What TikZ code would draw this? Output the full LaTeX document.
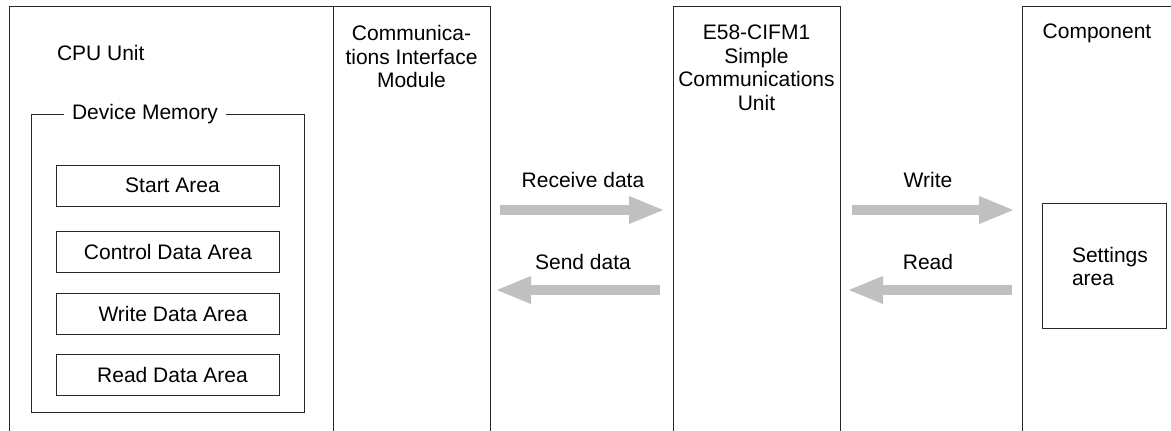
\documentclass[tikz,border=0pt]{standalone}
\usepackage{fontspec}
\setmainfont{Liberation Sans}
\usetikzlibrary{arrows.meta}
\definecolor{arrowgray}{RGB}{192,192,192}
\definecolor{linegray}{RGB}{40,40,40}
\begin{document}
\begin{tikzpicture}[x=1pt,y=-1pt,
  every node/.style={font=\fontsize{21}{23.5}\selectfont, inner sep=0pt, outer sep=0pt},
  col/.style={draw=linegray, line width=1pt, rectangle, minimum height=440pt},
  areabox/.style={draw=linegray, line width=1pt, rectangle, minimum width=223pt, minimum height=41pt},
  txt/.style={align=center},
  flow/.style={draw=arrowgray, line width=10pt, -{Triangle[length=36pt,width=25pt]}}
]
\useasboundingbox (0,0) rectangle (1171,431);
\clip (0,0) rectangle (1171,431);
\fill[white] (0,0) rectangle (1171,431);

% columns (open at the bottom)
\node[col, minimum width=324pt] (cpu) at (171,226) {};
\node[col, minimum width=157pt] (cim) at (411.5,226) {};
\node[col, minimum width=167pt] (e58) at (756.5,226) {};
\node[col, minimum width=170pt] (comp) at (1107,226) {};

% column titles
\node[anchor=west] (cputxt) at (57,53) {CPU Unit};
\node[txt] (cimtxt) at (411.5,56.5) {Communica-\\tions Interface\\Module};
\node[txt] (e58txt) at (756.5,68) {E58-CIFM1\\Simple\\Communications\\Unit};
\node (comptxt) at (1097,33) {Component};

% device memory
\node[draw=linegray, line width=1pt, rectangle, minimum width=273pt, minimum height=298pt] (dm) at (167.5,263) {};
\node[fill=white, inner xsep=8.5pt, inner ysep=2pt] (dmtxt) at (145,114) {Device Memory};

\node[areabox] (start) at (167.5,185.5) {};
\node (starttxt) at (172.5,185.5) {Start Area};
\node[areabox] (ctrl) at (167.5,252) {};
\node (ctrltxt) at (168,252) {Control Data Area};
\node[areabox] (wr) at (167.5,313.5) {};
\node (wrtxt) at (173,313.5) {Write Data Area};
\node[areabox] (rd) at (167.5,374.5) {};
\node (rdtxt) at (172.5,374.5) {Read Data Area};

% settings area
\node[draw=linegray, line width=1pt, rectangle, minimum width=124pt, minimum height=125pt] (set) at (1104,265.5) {};
\node[anchor=west, align=left] (settxt) at (1072,266.5) {Settings\\area};

% flow arrows
\coordinate (r1) at (500,210);
\coordinate (r2) at (665,210);
\coordinate (s1) at (660,290);
\coordinate (s2) at (495,290);
\coordinate (w1) at (852,210);
\coordinate (w2) at (1015,210);
\coordinate (d1) at (1012,290);
\coordinate (d2) at (847,290);
\draw[flow] (r1) -- (r2);
\draw[flow] (s1) -- (s2);
\draw[flow] (w1) -- (w2);
\draw[flow] (d1) -- (d2);

\node (rtxt) at (583,180) {Receive data};
\node (stxt) at (583,262) {Send data};
\node (wtxt) at (928,180) {Write};
\node (dtxt) at (928,262) {Read};
\end{tikzpicture}
\end{document}
